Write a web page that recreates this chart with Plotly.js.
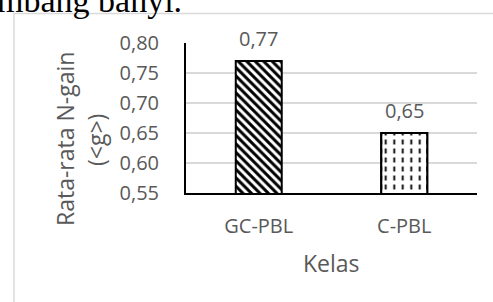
<!DOCTYPE html>
<html>
<head>
<meta charset="utf-8">
<script src="https://cdn.plot.ly/plotly-3.0.1.min.js"></script>
<style>html,body{margin:0;padding:0;background:#fff;}#chart{width:493px;height:302px;}</style>
</head>
<body>
<div id="chart"></div>
<script>
// ---- data ----
const categories = ['GC-PBL', 'C-PBL'];
const values = [0.77, 0.65];
const yTickValues = [0.55, 0.60, 0.65, 0.70, 0.75, 0.80];
const xAxisTitle = 'Kelas';
const yTitleLine1 = 'Rata-rata N-gain';
const yTitleLine2 = '(&lt;g&gt;)';
const pageText = 'mbang banyi.';

const fmt = v => v.toFixed(2).replace('.', ',');
const gray = '#595959';
const FONT = 'Open Sans, sans-serif';

const traces = [
  {
    type: 'bar',
    x: categories,
    y: values,
    marker: {
      color: '#ffffff',
      line: {color: '#000000', width: 2},
      pattern: {
        shape: ['\\', '|'],
        fgcolor: '#000000',
        bgcolor: '#ffffff',
        size: [6, 8.5],
        solidity: [0.5, 0.22],
        fillmode: 'replace'
      }
    },
    hoverinfo: 'none'
  },
  {
    // white horizontal gaps turning the vertical lines of C-PBL into dashes
    type: 'bar',
    x: [categories[1]],
    y: [values[1]],
    marker: {
      color: '#ffffff',
      line: {color: '#000000', width: 2},
      pattern: {
        shape: '-',
        fgcolor: '#ffffff',
        bgcolor: 'rgba(0,0,0,0)',
        size: 9,
        solidity: 0.45,
        fillmode: 'replace'
      }
    },
    hoverinfo: 'none'
  }
];

const W = 493, H = 302, L = 186, R = 16, T = 43, B = 109;
const pw = W - L - R, ph = H - T - B;
const px2x = p => (p - L) / pw;
const py2y = p => 1 - (p - T) / ph;

const annotations = categories.map((c, i) => ({
  x: c, y: values[i], xref: 'x', yref: 'y',
  text: fmt(values[i]), showarrow: false,
  yanchor: 'middle', yshift: 23,
  font: {family: FONT, size: 20, color: gray}
}));

annotations.push(
  {xref: 'paper', yref: 'paper', x: 0.5, y: py2y(263), text: xAxisTitle, showarrow: false,
   xanchor: 'center', yanchor: 'middle', font: {family: FONT, size: 23, color: gray}},
  {xref: 'paper', yref: 'paper', x: px2x(65), y: py2y(139), text: yTitleLine1, showarrow: false,
   textangle: -90, xanchor: 'center', yanchor: 'middle', font: {family: FONT, size: 23, color: gray}},
  {xref: 'paper', yref: 'paper', x: px2x(96), y: py2y(140), text: yTitleLine2, showarrow: false,
   textangle: -90, xanchor: 'center', yanchor: 'middle', font: {family: FONT, size: 23, color: gray}},
  {xref: 'paper', yref: 'paper', x: px2x(184), y: py2y(0), text: pageText, showarrow: false,
   xanchor: 'right', yanchor: 'middle', font: {family: 'Liberation Serif, serif', size: 34, color: '#000000'}}
);

const layout = {
  width: W, height: H,
  margin: {l: L, r: R, t: T, b: B, pad: 0},
  paper_bgcolor: '#ffffff',
  plot_bgcolor: '#ffffff',
  showlegend: false,
  barmode: 'overlay',
  bargap: 0.684,
  separators: ',.',
  font: {family: FONT, color: gray},
  xaxis: {
    type: 'category',
    showgrid: false,
    showline: true, linecolor: '#000000', linewidth: 2,
    ticks: '', ticklabelstandoff: 14,
    tickfont: {family: FONT, size: 20, color: gray},
    fixedrange: true
  },
  yaxis: {
    range: [0.55, 0.80],
    tickvals: yTickValues,
    ticktext: yTickValues.map(fmt),
    showgrid: true, gridcolor: '#d9d9d9', gridwidth: 1.5,
    showline: true, linecolor: '#000000', linewidth: 2,
    zeroline: false,
    ticks: '', ticklabelstandoff: 21,
    tickfont: {family: FONT, size: 20, color: gray},
    fixedrange: true
  },
  annotations: annotations,
  shapes: [{
    type: 'rect', xref: 'paper', yref: 'paper', layer: 'below',
    x0: px2x(14), x1: 1.3, y0: -1, y1: py2y(13.5),
    line: {color: '#d9d9d9', width: 1.5}, fillcolor: 'rgba(0,0,0,0)'
  }]
};

Plotly.newPlot('chart', traces, layout, {displayModeBar: false, staticPlot: true});
</script>
</body>
</html>
